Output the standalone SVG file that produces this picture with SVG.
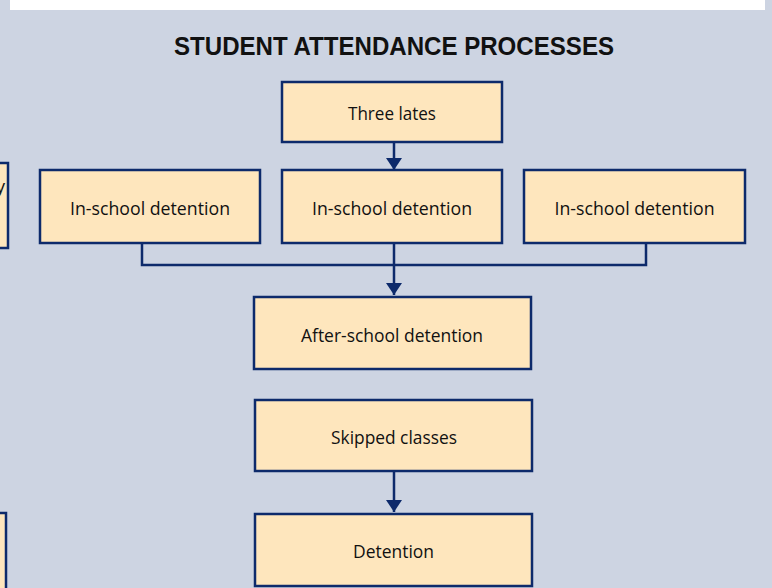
<svg xmlns="http://www.w3.org/2000/svg" width="772" height="588" viewBox="0 0 772 588">
<defs>
<style>
.box{fill:#fee6bd;stroke:#0d2a6b;stroke-width:2.5}
.lbl{font-family:"Open Sans","Liberation Sans",sans-serif;font-size:18px;fill:#111;text-anchor:middle}
.con{fill:none;stroke:#0d2a6b;stroke-width:2.5}
</style>
<marker id="ah" viewBox="0 0 12 16" refX="12" refY="8" markerWidth="12" markerHeight="16" markerUnits="userSpaceOnUse" orient="auto">
<path d="M0,0 L12,8 L0,16 Z" fill="#0d2a6b"/>
</marker>
</defs>
<rect x="0" y="0" width="772" height="588" fill="#cdd4e2"/>
<rect x="10" y="0" width="755" height="10" fill="#ffffff"/>
<text x="394" y="55" font-family="'Liberation Sans',Arial,sans-serif" font-weight="bold" font-size="26" fill="#111" text-anchor="middle" textLength="440" lengthAdjust="spacingAndGlyphs">STUDENT ATTENDANCE PROCESSES</text>
<g id="connectors">
<line class="con" x1="394" y1="142" x2="394" y2="170" marker-end="url(#ah)"/>
<polyline class="con" points="142,243 142,265 646,265 646,243"/>
<line class="con" x1="394" y1="243" x2="394" y2="295" marker-end="url(#ah)"/>
<line class="con" x1="394" y1="471" x2="394" y2="512" marker-end="url(#ah)"/>
</g>
<g id="partial-left-top"><rect class="box" x="-10" y="163" width="18" height="85"/><text x="5" y="193" font-family="'Open Sans','Liberation Sans',sans-serif" font-size="18" fill="#111" text-anchor="end">y</text></g>
<g id="partial-left-bottom"><rect class="box" x="-10" y="513" width="16" height="90"/></g>
<g id="three-lates"><rect class="box" x="282" y="82" width="220" height="60"/><text class="lbl" x="392" y="120" textLength="88" lengthAdjust="spacingAndGlyphs">Three lates</text></g>
<g id="isd-left"><rect class="box" x="40" y="170" width="220" height="73"/><text class="lbl" x="150" y="215" textLength="160" lengthAdjust="spacingAndGlyphs">In-school detention</text></g>
<g id="isd-mid"><rect class="box" x="282" y="170" width="220" height="73"/><text class="lbl" x="392" y="215" textLength="160" lengthAdjust="spacingAndGlyphs">In-school detention</text></g>
<g id="isd-right"><rect class="box" x="524" y="170" width="221" height="73"/><text class="lbl" x="634.5" y="215" textLength="160" lengthAdjust="spacingAndGlyphs">In-school detention</text></g>
<g id="after-school"><rect class="box" x="254" y="297" width="277" height="72"/><text class="lbl" x="392" y="342" textLength="182" lengthAdjust="spacingAndGlyphs">After-school detention</text></g>
<g id="skipped"><rect class="box" x="255" y="400" width="277" height="71"/><text class="lbl" x="394" y="444" textLength="126" lengthAdjust="spacingAndGlyphs">Skipped classes</text></g>
<g id="detention"><rect class="box" x="255" y="514" width="277" height="72"/><text class="lbl" x="393.5" y="558" textLength="81" lengthAdjust="spacingAndGlyphs">Detention</text></g>
</svg>
